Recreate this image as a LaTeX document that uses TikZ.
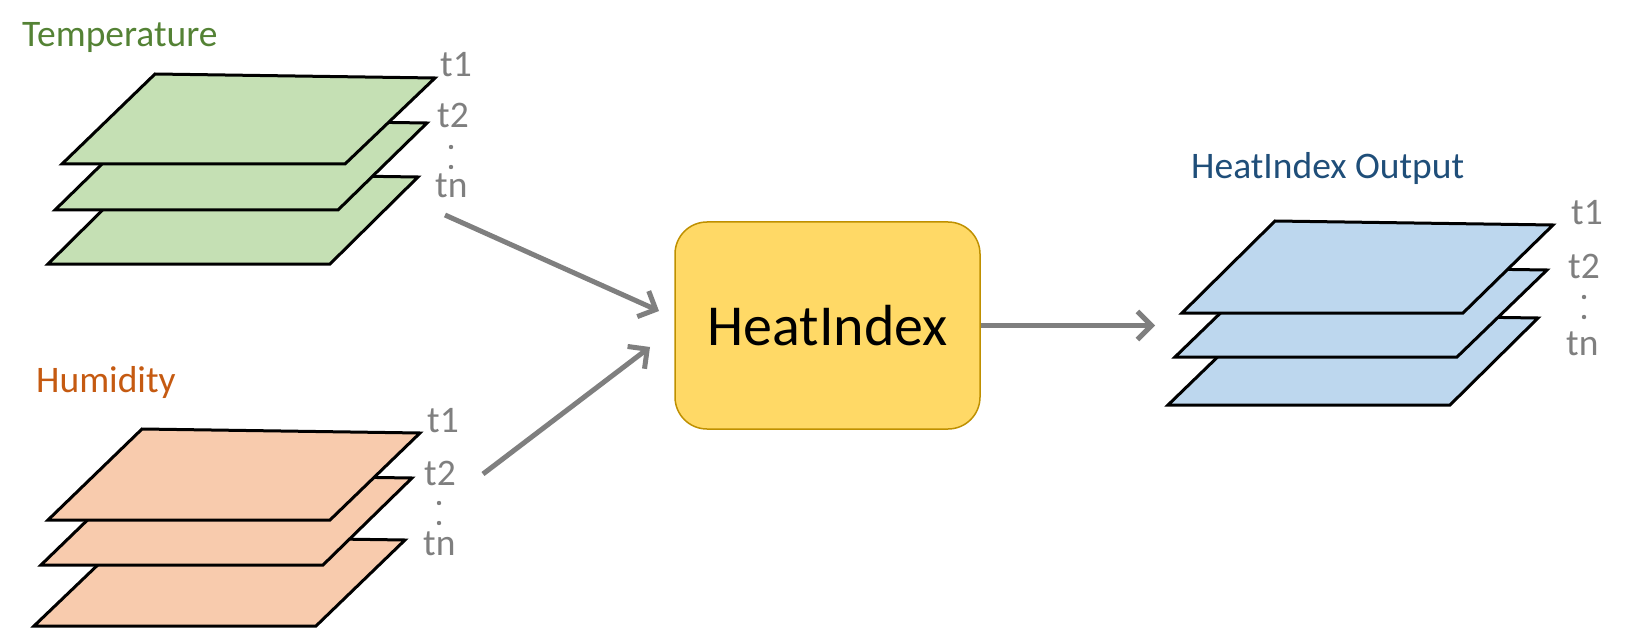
\documentclass[tikz,border=0pt]{standalone}
\usepackage{fontspec}
\setmainfont{Carlito}
\usetikzlibrary{arrows.meta}
\definecolor{tgreen}{HTML}{C5E0B4}
\definecolor{tgreentext}{HTML}{548235}
\definecolor{horange}{HTML}{F8CBAD}
\definecolor{horangetext}{HTML}{C55A11}
\definecolor{oblue}{HTML}{BDD7EE}
\definecolor{obluetext}{HTML}{1F4E79}
\definecolor{lblgray}{HTML}{7F7F7F}
\definecolor{boxfill}{HTML}{FFD966}
\definecolor{boxline}{HTML}{BF9000}
\tikzset{
  sheet/.style={draw=black, line width=3pt},
  title/.style={font=\fontsize{37.5}{40}\selectfont, inner sep=0pt, anchor=base west},
  tlabel/.style={font=\fontsize{37.5}{40}\selectfont, text=lblgray, inner sep=0pt, anchor=base west},
  tdot/.style={fill=lblgray, draw=none},
  flow/.style={draw=lblgray, line width=5pt, -{Straight Barb[length=14pt,width=28pt]}},
  mainbox/.style={draw=boxline, line width=1.5pt, fill=boxfill, rounded corners=32pt,
    minimum width=305pt, minimum height=207pt, font=\fontsize{58}{62}\selectfont, inner sep=0pt}
}
\begin{document}
\begin{tikzpicture}[x=1pt,y=-1pt]
\useasboundingbox (0,0) rectangle (1629,628);
% Temperature stack
\draw[sheet, fill=tgreen] (140,173) -- (418,177) -- (330,264) -- (48,264) -- cycle;
\draw[sheet, fill=tgreen] (148,119) -- (427,123) -- (338,210) -- (55,210) -- cycle;
\draw[sheet, fill=tgreen] (155,74) -- (435,78) -- (345,164) -- (62,164) -- cycle;
\node[title, text=tgreentext] (temp) at (22,47) {Temperature};
\node[tlabel] (tt1) at (440,77) {t1};
\node[tlabel] (tt2) at (437,128) {t2};
\fill[tdot] (451,147) circle (2.2);
\fill[tdot] (451,167) circle (2.2);
\node[tlabel] (ttn) at (435,198) {tn};
% Humidity stack
\draw[sheet, fill=horange] (128,536) -- (405,540) -- (316,626) -- (34,626) -- cycle;
\draw[sheet, fill=horange] (135,474) -- (412,478) -- (323,565) -- (41,565) -- cycle;
\draw[sheet, fill=horange] (142,429) -- (420,433) -- (330,520) -- (48,520) -- cycle;
\node[title, text=horangetext] (hum) at (36,392) {Humidity};
\node[tlabel] (ht1) at (427,432) {t1};
\node[tlabel] (ht2) at (424,485) {t2};
\fill[tdot] (439,503) circle (2.2);
\fill[tdot] (439,523) circle (2.2);
\node[tlabel] (htn) at (423,555) {tn};
% Output stack
\draw[sheet, fill=oblue] (1262,314) -- (1538,318) -- (1450,405) -- (1168,405) -- cycle;
\draw[sheet, fill=oblue] (1269,266) -- (1547,270) -- (1457,357) -- (1175,357) -- cycle;
\draw[sheet, fill=oblue] (1275,221) -- (1553,225) -- (1463,313) -- (1182,313) -- cycle;
\node[title, text=obluetext] (out) at (1191,179) {HeatIndex Output};
\node[tlabel] (ot1) at (1571,225) {t1};
\node[tlabel] (ot2) at (1568,278) {t2};
\fill[tdot] (1584,297) circle (2.2);
\fill[tdot] (1584,317) circle (2.2);
\node[tlabel] (otn) at (1566,355) {tn};
% Main box
\node[mainbox] (hi) at (827.5,325.5) {HeatIndex};
% Arrows
\coordinate (a1s) at (445,215);
\coordinate (a1e) at (659,311);
\coordinate (a2s) at (483,474);
\coordinate (a2e) at (650,347);
\coordinate (a3e) at (1155,325.5);
\draw[flow] (a1s) -- (a1e);
\draw[flow] (a2s) -- (a2e);
\draw[flow] (hi.east) -- (a3e);
\end{tikzpicture}
\end{document}
